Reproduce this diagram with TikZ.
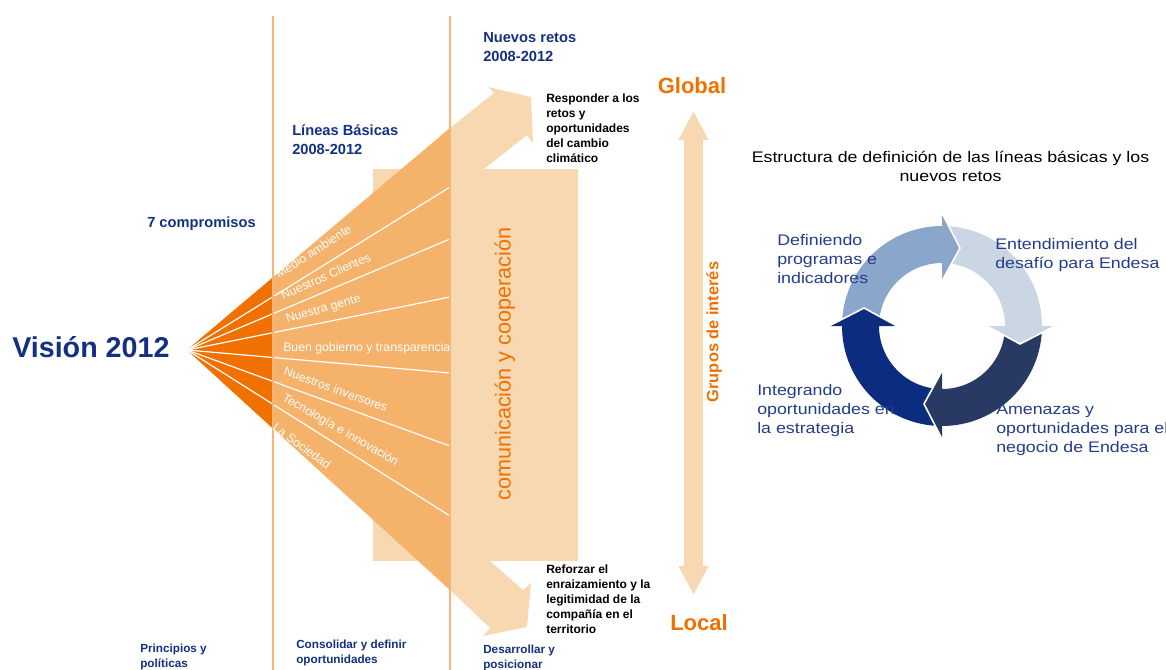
\documentclass[tikz,border=0pt]{standalone}
\usepackage{fontspec}
\setmainfont{Liberation Sans}
\newfontfamily\widesans[FakeStretch=1.16]{Liberation Sans}
\usetikzlibrary{arrows.meta}
\definecolor{darkor}{RGB}{240,112,0}
\definecolor{fanor}{RGB}{244,178,106}
\definecolor{peach}{RGB}{248,216,176}
\definecolor{vline}{RGB}{244,180,122}
\definecolor{navytxt}{RGB}{20,48,130}
\definecolor{cyctxt}{RGB}{35,60,140}
\definecolor{cA}{RGB}{139,166,203}
\definecolor{cB}{RGB}{203,214,228}
\definecolor{cC}{RGB}{40,58,100}
\definecolor{cD}{RGB}{12,44,128}
\newcommand\fsz[2]{\fontsize{#1}{#2}\selectfont}
\begin{document}
\begin{tikzpicture}[x=0.75pt,y=-0.75pt,
  hd/.style={font=\bfseries\fsz{11}{14.25}, text=navytxt, align=left, anchor=west, inner sep=0pt},
  ft/.style={font=\bfseries\fsz{8.8}{11.25}, text=navytxt, align=left, anchor=west, inner sep=0pt},
  blk/.style={font=\bfseries\fsz{9}{11.25}, text=black, align=left, anchor=west, inner sep=0pt},
  fanlab/.style={font=\fsz{9.2}{11}, text=white, inner sep=0pt},
  gl/.style={font=\bfseries\fsz{16.5}{18}, text=darkor, inner sep=0pt},
  cyc/.style={font=\widesans\fsz{11.5}{14.25}, text=cyctxt, align=left, anchor=west, inner sep=0pt},
  sep/.style={white, line width=0.9pt},
  vsep/.style={vline, line width=1.5pt},
  grarrow/.style={peach, line width=14.25pt, {Triangle[width=21pt,length=21.75pt]}-{Triangle[width=21pt,length=21.75pt]}},
  hbord/.style={white, line width=1.2pt, line join=miter}
]
\useasboundingbox (0,0) rectangle (1166,670);

% peach background shapes
\fill[peach] (373,169) rectangle (578,561);
\fill[peach] (440,136) -- (494,93) -- (488,87) -- (531,97) -- (533,143) -- (527,135) -- (484,169) -- (440,169) -- cycle;
\fill[peach] (440,561) -- (490,561) -- (523,590) -- (531,583) -- (527,627) -- (483,636) -- (490,628) -- (440,580.5) -- cycle;

% fan
\fill[fanor] (187,350) -- (450,128) -- (450,590) -- cycle;
\fill[darkor] (187,350) -- (273,277.4) -- (273,428.5) -- cycle;
\coordinate (apex) at (187,350);
\foreach \yy/\nm in {187/s1,239/s2,297/s3,373/s4,446/s5,516/s6}{
  \coordinate (\nm) at (450,\yy);
  \draw[sep] (apex) -- (\nm);
}

% vertical separators
\coordinate (v1t) at (273,16); \coordinate (v1b) at (273,670);
\coordinate (v2t) at (450,16); \coordinate (v2b) at (450,670);
\draw[vsep] (v1t) -- (v1b);
\draw[vsep] (v2t) -- (v2b);

% fan labels
\node[fanlab, rotate=33, anchor=base west] (l1) at (279,279) {Medio ambiente};
\node[fanlab, rotate=24, anchor=base west] (l2) at (283,300) {Nuestros Clientes};
\node[fanlab, rotate=16, anchor=base west] (l3) at (287,323) {Nuestra gente};
\node[fanlab, anchor=base west] (l4) at (283,351) {Buen gobierno y transparencia};
\node[fanlab, rotate=-20, anchor=north west] (l5) at (286,366) {Nuestros inversores};
\node[fanlab, rotate=-30, anchor=north west] (l6) at (286,392) {Tecnología e innovación};
\node[fanlab, rotate=-36, anchor=north west] (l7) at (277,422) {La Sociedad};

\node[font=\fsz{16.2}{18}, text=darkor, rotate=90, inner sep=0pt] (cc) at (505,364) {comunicación y cooperación};

% headings
\node[font=\bfseries\fsz{21.5}{24}, text=navytxt, anchor=west, inner sep=0pt] (vis) at (12,347) {Visión 2012};
\node[hd] (comp) at (147,224) {7 compromisos};
\node[hd] (lin) at (292,139.5) {Líneas Básicas\\2008-2012};
\node[hd] (nue) at (483,47) {Nuevos retos\\2008-2012};
\node[ft] (pri) at (140,656.5) {Principios y\\políticas};
\node[ft] (con) at (296,653) {Consolidar y definir\\oportunidades};
\node[ft] (des) at (483,657.5) {Desarrollar y\\posicionar};
\node[blk] (resp) at (546,128) {Responder a los\\retos y\\oportunidades\\del cambio\\climático};
\node[blk] (ref) at (546,599.5) {Reforzar el\\enraizamiento y la\\legitimidad de la\\compañía en el\\territorio};

% global / local
\node[gl] (glob) at (692,86) {Global};
\node[gl] (loc) at (699,623) {Local};
\coordinate (gtop) at (693.5,111);
\coordinate (gbot) at (693.5,595);
\draw[grarrow] (gtop) -- (gbot);
\node[font=\bfseries\fsz{12.3}{14}, text=darkor, rotate=90, inner sep=0pt] (grp) at (714,332) {Grupos de interés};

% cycle title
\node[font=\widesans\fsz{11.5}{14.25}, text=black, align=center, inner sep=0pt] (tit) at (950.5,166.5) {Estructura de definición de las líneas básicas y los\\nuevos retos};

% cycle arrows
\begin{scope}[shift={(942,326)}, yscale=-1]
  \foreach \a/\b/\c in {180/90/cA, 90/0/cB, 0/-90/cC, -90/-180/cD}{
    \fill[\c] (\a:100) arc[start angle=\a, end angle=\b, radius=100] -- (\b:63) arc[start angle=\b, end angle=\a, radius=63] -- cycle;
  }
  \foreach \b/\c in {90/cA, 0/cB, -90/cC, -180/cD}{
    \pgfmathsetmacro\t{\b-13}
    \fill[\c] (\b:45) -- (\t:80) -- (\b:113) -- cycle;
    \draw[hbord] (\b:45) -- (\t:80) -- (\b:113);
  }
\end{scope}

% cycle labels
\node[cyc] (cy1) at (777,259) {Definiendo\\programas e\\indicadores};
\node[cyc] (cy2) at (995,255.5) {Entendimiento del\\desafío para Endesa};
\node[cyc] (cy3) at (757,411) {Integrando\\oportunidades en\\la estrategia};
\node[cyc] (cy4) at (996,430) {Amenazas y\\oportunidades para el\\negocio de Endesa};
\end{tikzpicture}
\end{document}
